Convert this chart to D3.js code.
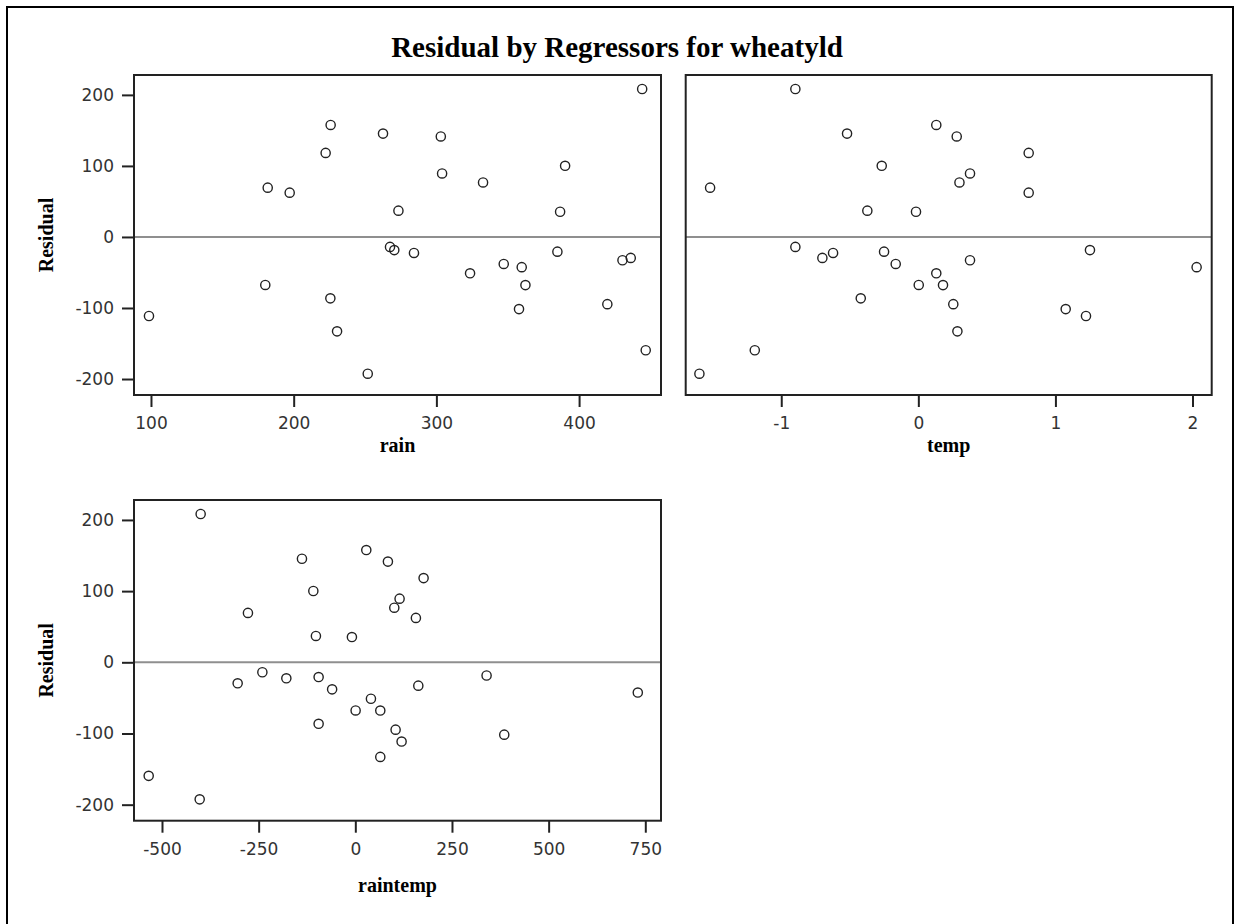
<!DOCTYPE html>
<html>
<head>
<meta charset="utf-8">
<script src="https://cdn.jsdelivr.net/npm/d3@7"></script>
<style>
  body { margin: 0; background: #fff; }
  .tick text { font-family: "DejaVu Sans", sans-serif; font-size: 17px; fill: #333; }
  .tick line { stroke: #222; stroke-width: 2; }
</style>
</head>
<body>
<script>
const rain = [98.6, 180.1, 181.8, 197.2, 222.4, 225.9, 225.7, 230.4, 251.9, 262.6,
  267.5, 270.5, 273.4, 284.3, 303.1, 304, 323.6, 332.7, 347.2, 357.9,
  359.8, 362.4, 384.8, 386.7, 390.2, 419.8, 430.4, 436.2, 444.2, 446.7];
const temp = [1.223, 0.003, -1.519, 0.805, 0.805, 0.131, -0.42, 0.285, -1.597, -0.52,
  -0.897, 1.252, -0.372, -0.622, 0.28, 0.377, 0.131, 0.30, -0.165, 1.075,
  2.03, 0.18, -0.25, -0.017, -0.267, 0.255, 0.377, -0.70, -0.897, -1.193];
const raintemp = [119.7, 0.8, -277.7, 156.7, 176.6, 28.4, -94.9, 64.6, -402.5, -138,
  -240.4, 339.5, -101.9, -178.4, 84.3, 114.5, 40.4, 100.8, -60, 385.2,
  730.6, 64.6, -94.9, -8.8, -108.6, 104.2, 162.9, -304.3, -400, -534.4];
const residual = [-111.3, -67.6, 69.4, 62.4, 118.3, 157.7, -86.4, -132.9, -192.5, 145.5,
  -14, -18.5, 37, -22.5, 141.5, 89.4, -51.2, 76.7, -38, -101.6,
  -42.5, -67.8, -20.7, 35.5, 100.2, -94.6, -32.8, -29.5, 208.3, -159.5];

const residTicks = [-200, -100, 0, 100, 200];
const rainTicks = [100, 200, 300, 400];
const tempTicks = [-1, 0, 1, 2];
const raintempTicks = [-500, -250, 0, 250, 500, 750];

const titre = "Residual by Regressors for wheatyld";

const largeur = 1235;
const hauteur = 924;

// trait d'union simple au lieu du signe moins unicode
const fmt = d => String(d);

const svg = d3.select("body").append("svg")
    .attr("width", largeur)
    .attr("height", hauteur);

// cadre extérieur
svg.append("rect")
    .attr("x", 7).attr("y", 7)
    .attr("width", 1226).attr("height", 940)
    .attr("fill", "none")
    .attr("stroke", "#000")
    .attr("stroke-width", 2);

svg.append("text")
    .attr("x", 617).attr("y", 57)
    .attr("text-anchor", "middle")
    .style("font-family", "'Liberation Serif', serif")
    .style("font-weight", "bold")
    .style("font-size", "29px")
    .text(titre);

// un panneau = un nuage de points residual vs regresseur
function dessinerPanneau(x0, x1, y0, y1, xDomaine, xValeurs, xTicks, xLabel, labelY, avecAxeY) {
    const x = d3.scaleLinear().domain(xDomaine).range([x0, x1]);
    const y = d3.scaleLinear().domain([-222.5, 228]).range([y1, y0]);

    const g = svg.append("g");

    // ligne de référence à 0
    g.append("line")
        .attr("x1", x0).attr("x2", x1)
        .attr("y1", y(0)).attr("y2", y(0))
        .attr("stroke", "#8f8f8f")
        .attr("stroke-width", 2);

    g.selectAll("circle.pt")
        .data(xValeurs)
        .enter().append("circle")
        .attr("class", "pt")
        .attr("cx", d => x(d))
        .attr("cy", (d, i) => y(residual[i]))
        .attr("r", 4.6)
        .attr("fill", "none")
        .attr("stroke", "#222")
        .attr("stroke-width", 1.4);

    const axeX = g.append("g")
        .attr("transform", `translate(0,${y1})`)
        .call(d3.axisBottom(x).tickValues(xTicks).tickSize(12).tickPadding(10).tickSizeOuter(0)
            .tickFormat(fmt));
    axeX.select(".domain").remove();

    if (avecAxeY) {
        const axeY = g.append("g")
            .attr("transform", `translate(${x0},0)`)
            .call(d3.axisLeft(y).tickValues(residTicks).tickSize(12).tickPadding(8).tickSizeOuter(0)
                .tickFormat(fmt));
        axeY.select(".domain").remove();

        g.append("text")
            .attr("transform", `translate(53,${(y0 + y1) / 2}) rotate(-90)`)
            .attr("text-anchor", "middle")
            .style("font-family", "'Liberation Serif', serif")
            .style("font-weight", "bold")
            .style("font-size", "20px")
            .text("Residual");
    }

    // cadre du panneau
    g.append("rect")
        .attr("x", x0).attr("y", y0)
        .attr("width", x1 - x0).attr("height", y1 - y0)
        .attr("fill", "none")
        .attr("stroke", "#222")
        .attr("stroke-width", 2);

    g.append("text")
        .attr("x", (x0 + x1) / 2).attr("y", labelY)
        .attr("text-anchor", "middle")
        .style("font-family", "'Liberation Serif', serif")
        .style("font-weight", "bold")
        .style("font-size", "20px")
        .text(xLabel);
}

dessinerPanneau(134, 661, 75, 395, [88.1, 457.4], rain, rainTicks, "rain", 452, true);
dessinerPanneau(685.7, 1211.7, 75, 395, [-1.697, 2.14], temp, tempTicks, "temp", 452, false);
dessinerPanneau(134, 661, 500, 820.7, [-572.4, 790.6], raintemp, raintempTicks, "raintemp", 892, true);
</script>
</body>
</html>
